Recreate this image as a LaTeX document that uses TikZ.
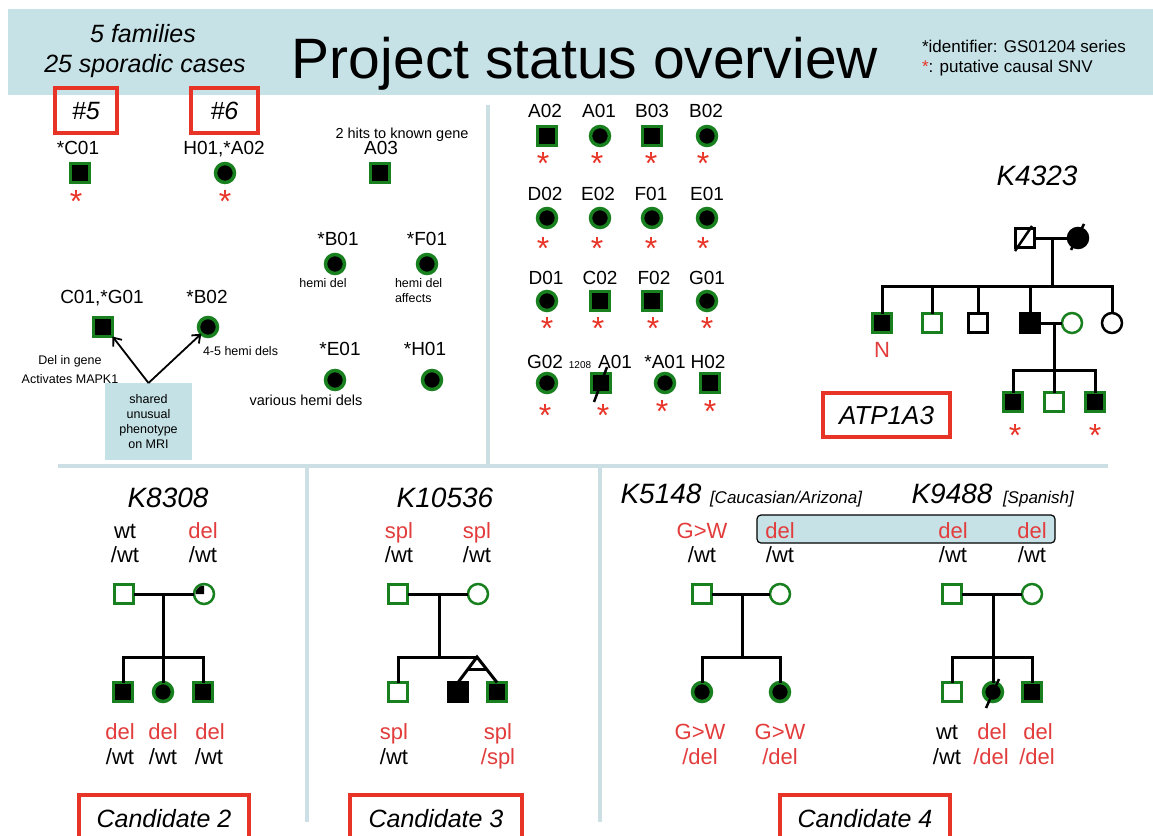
\documentclass[tikz,border=0pt]{standalone}
\usepackage{fontspec}
\setmainfont{Liberation Sans}
\usetikzlibrary{arrows.meta,calc}
\definecolor{banner}{RGB}{198,226,231}
\definecolor{divline}{RGB}{203,223,229}
\definecolor{mriblue}{RGB}{196,225,230}
\definecolor{pgreen}{RGB}{24,128,30}
\definecolor{pred}{RGB}{232,52,38}
\definecolor{tred}{RGB}{226,60,60}
\tikzset{
  fz/.style={font=\fontsize{#1}{#1}\selectfont, text height=0.72*#1, text depth=0},
  fzi/.style={font=\fontsize{#1}{#1}\selectfont\itshape, text height=0.72*#1, text depth=0},
  lab/.style={fz=19},
  gt/.style={fz=22},
  gtr/.style={fz=22, text=tred},
  fam/.style={fzi=28},
  redstar/.style={font=\fontsize{32}{32}\selectfont, text=pred, anchor=base},
  redbox/.style={draw=pred, line width=3.5},
  divider/.style={draw=divline, line width=3.5},
  ped/.style={line width=3, black, line join=miter},
  slash/.style={line width=2.5, black},
  arr/.style={line width=1.8, black, -{Straight Barb[length=7pt,width=11pt,line width=1.8pt]}},
  sqA/.style={rectangle, draw=pgreen, line width=3, fill=black, minimum size=19},
  ciA/.style={circle, draw=pgreen, line width=3.5, fill=black, minimum size=19},
  sqU/.style={rectangle, draw=pgreen, line width=2.5, fill=white, minimum size=19},
  ciU/.style={circle, draw=pgreen, line width=2.5, fill=white, minimum size=20},
  sqO/.style={rectangle, draw=black, line width=2.5, fill=white, minimum size=19},
  ciO/.style={circle, draw=black, line width=2.5, fill=white, minimum size=20},
  sqB/.style={rectangle, draw=black, line width=2.5, fill=black, minimum size=19},
  ciB/.style={circle, draw=black, line width=2.5, fill=black, minimum size=20},
  every node/.append style={inner sep=0pt, outer sep=0pt}
}
\newcommand{\rstar}[3]{\node[redstar] (#1) at (#2,#3+16) {*};}
\begin{document}
\begin{tikzpicture}[x=1pt,y=-1pt]
\clip (0,0) rectangle (1153,835);
\fill[white] (0,0) rectangle (1153,835);
% banner
\fill[banner] (8,9) rectangle (1153,95);
% dividers
\draw[divider] (488,105) -- (488,466);
\draw[divider] (58,466) -- (1108,466);
\draw[divider] (307,466) -- (307,822);
\draw[divider] (600,466) -- (600,822);

% ---------- banner texts
\node[fzi=25] (fam5) at (143,33) {5 families};
\node[fzi=25] (spor) at (145,63) {25 sporadic cases};
\node[fz=57] (title) at (585,58) {Project status overview};
\node[fz=17, anchor=west] (leg1) at (922,46) {*identifier: GS01204 series};
\node[fz=17, anchor=west] (leg2) at (922,66) {\textcolor{pred}{*}: putative causal SNV};

% ---------- top left
\node[redbox, fzi=25, minimum width=62, minimum height=45] (b5) at (86,110.5) {\#5};
\node[redbox, fzi=25, minimum width=67, minimum height=45] (b6) at (224.5,110.5) {\#6};
\node[lab] (lC01) at (78,148) {*C01};
\node[sqA] (sC01) at (80,173) {};
\rstar{stC01}{76}{196}
\node[lab] (lA02) at (224,148) {H01,*A02};
\node[ciA] (cA02) at (225,173) {};
\rstar{stA02}{225}{196}
\node[fz=14.5] (hits) at (402,133) {2 hits to known gene};
\node[lab] (lA03) at (381,148) {A03};
\node[sqA] (sA03) at (380,173) {};
\node[lab] (lB01) at (338,239) {*B01};
\node[ciA] (cB01) at (335,264) {};
\node[fz=12.5] (hd1) at (323,283) {hemi del};
\node[lab] (lF01) at (427,239) {*F01};
\node[ciA] (cF01) at (427,264) {};
\node[fz=12.5, anchor=west] (hd2) at (395,283) {hemi del};
\node[fz=12.5, anchor=west] (aff) at (395,298) {affects};
\node[lab] (lG01) at (102,297) {C01,*G01};
\node[sqA] (sG01) at (103,327) {};
\node[lab] (lB02) at (207,297) {*B02};
\node[ciA] (cB02) at (208,327) {};
\node[fz=12.5, anchor=west] (hd45) at (203,351) {4-5 hemi dels};
\node[fz=12.5] (delg) at (70,360) {Del in gene};
\node[fz=12.5] (mapk) at (70,379) {Activates MAPK1};
\node[fill=mriblue, minimum width=87, minimum height=77, align=center, font=\fontsize{12.5}{14.7}\selectfont] (mri) at (148.5,421.5) {shared\\unusual\\phenotype\\on MRI};
\draw[arr] (mri.north) -- (sG01.south east);
\draw[arr] (mri.north) -- (cB02.south west);
\node[lab] (lE01) at (340,349) {*E01};
\node[ciA] (cE01) at (335,380) {};
\node[fz=14.5] (vhd) at (306,400) {various hemi dels};
\node[lab] (lH01) at (425,349) {*H01};
\node[ciA] (cH01) at (432,380) {};

% ---------- grid
% row 1
\node[lab] (gA02) at (545,111) {A02};
\node[lab] (gA01) at (599,111) {A01};
\node[lab] (gB03) at (652,111) {B03};
\node[lab] (gB02) at (706,111) {B02};
\node[sqA] (s11) at (547,136) {};
\node[ciA] (s12) at (600,136) {};
\node[sqA] (s13) at (652,136) {};
\node[ciA] (s14) at (707,136) {};
\rstar{st11}{543}{158}\rstar{st12}{597}{158}\rstar{st13}{651}{158}\rstar{st14}{703}{158}
% row 2
\node[lab] (gD02) at (545,194) {D02};
\node[lab] (gE02) at (598,194) {E02};
\node[lab] (gF01) at (651,194) {F01};
\node[lab] (gE01) at (707,194) {E01};
\node[ciA] (s21) at (547,218) {};
\node[ciA] (s22) at (600,218) {};
\node[ciA] (s23) at (652,218) {};
\node[ciA] (s24) at (707,218) {};
\rstar{st21}{543}{243}\rstar{st22}{597}{243}\rstar{st23}{651}{243}\rstar{st24}{703}{243}
% row 3
\node[lab] (gD01) at (546,278) {D01};
\node[lab] (gC02) at (600,278) {C02};
\node[lab] (gF02) at (654,278) {F02};
\node[lab] (gG01) at (707,278) {G01};
\node[ciA] (s31) at (547,301) {};
\node[sqA] (s32) at (600,301) {};
\node[sqA] (s33) at (652,301) {};
\node[ciA] (s34) at (707,301) {};
\rstar{st31}{547}{323}\rstar{st32}{598}{323}\rstar{st33}{653}{323}\rstar{st34}{707}{323}
% row 4
\node[lab] (gG02) at (545,362) {G02};
\node[fz=10] (g1208) at (580,365) {1208};
\node[lab] (gA01b) at (615,362) {A01};
\node[lab] (gA01c) at (665,362) {*A01};
\node[lab] (gH02) at (708,362) {H02};
\node[ciA] (s41) at (547,383) {};
\node[sqA] (s42) at (601,383) {};
\node[ciA] (s43) at (665,383) {};
\node[sqA] (s44) at (710,383) {};
\draw[slash] ([shift={(-7,19)}]s42.center) -- ([shift={(6,-16)}]s42.center);
\rstar{st41}{545}{410}\rstar{st42}{603}{410}\rstar{st43}{662}{406}\rstar{st44}{710}{406}

% ---------- K4323
\node[fam] (k4323) at (1037,175) {K4323};
\node[sqO] (k4f) at (1025,238) {};
\node[ciB] (k4m) at (1078,238) {};
\draw[slash] ([shift={(-10,13)}]k4f.center) -- ([shift={(7,-12)}]k4f.center);
\draw[slash] ([shift={(-7,12)}]k4m.center) -- ([shift={(6,-14)}]k4m.center);
\node[sqA] (k4c1) at (882,323) {};
\node[sqU] (k4c2) at (932,323) {};
\node[sqO] (k4c3) at (978,323) {};
\node[sqB] (k4c4) at (1030,323) {};
\node[ciU] (k4sp) at (1072,323) {};
\node[ciO] (k4c5) at (1112,323) {};
\node[sqA] (k4g1) at (1013,402) {};
\node[sqU] (k4g2) at (1054,402) {};
\node[sqA] (k4g3) at (1095,402) {};
\coordinate (k4jc) at (1052,238);
\coordinate (k4js) at (1052,286);
\coordinate (k4jc2) at (1054,323);
\coordinate (k4js2) at (1054,370);
\draw[ped] (k4f.east) -- (k4m.west);
\draw[ped] (k4jc) -- (k4js);
\draw[ped] (k4c1.north) |- (k4js) -| (k4c5.north);
\draw[ped] (k4c2.north) -- (k4c2.north |- k4js);
\draw[ped] (k4c3.north) -- (k4c3.north |- k4js);
\draw[ped] (k4c4.north) -- (k4c4.north |- k4js);
\draw[ped] (k4c4.east) -- (k4sp.west);
\draw[ped] (k4jc2) -- (k4js2);
\draw[ped] (k4g1.north) |- (k4js2) -| (k4g3.north);
\draw[ped] (k4js2) -- (k4g2.north);
\node[fz=22, text=tred] (k4N) at (882,350) {N};
\rstar{k4st1}{1015}{430}\rstar{k4st2}{1095}{430}
\node[redbox, fzi=26, minimum width=127, minimum height=44] (atp) at (886.5,415) {ATP1A3};

% ---------- K8308
\node[fam] (k8308) at (168,497) {K8308};
\node[gt] (k8g1) at (125,531) {wt};
\node[gt] (k8g2) at (125,555) {/wt};
\node[gtr] (k8g3) at (203,531) {del};
\node[gt] (k8g4) at (203,555) {/wt};
\node[sqU] (k8f) at (124,594) {};
\node[ciU] (k8m) at (204,594) {};
\fill (k8m.center) -- ([xshift=-8.5pt]k8m.center) arc[start angle=180, end angle=90, radius=8.5pt] -- cycle;
\node[sqA] (k8c1) at (123,692) {};
\node[ciA] (k8c2) at (163,692) {};
\node[sqA] (k8c3) at (203,692) {};
\coordinate (k8jc) at (163,594);
\coordinate (k8js) at (163,657);
\draw[ped] (k8f.east) -- (k8m.west);
\draw[ped] (k8jc) -- (k8c2.north);
\draw[ped] (k8c1.north) |- (k8js) -| (k8c3.north);
\node[gtr] (k8b1) at (120,732) {del};
\node[gt] (k8b2) at (120,757) {/wt};
\node[gtr] (k8b3) at (163,732) {del};
\node[gt] (k8b4) at (163,757) {/wt};
\node[gtr] (k8b5) at (210,732) {del};
\node[gt] (k8b6) at (209,757) {/wt};
\node[redbox, fzi=25, minimum width=170, minimum height=46] (cand2) at (164,818) {Candidate 2};

% ---------- K10536
\node[fam] (k10536) at (445,497) {K10536};
\node[gtr] (k1g1) at (399,531) {spl};
\node[gt] (k1g2) at (399,555) {/wt};
\node[gtr] (k1g3) at (477,531) {spl};
\node[gt] (k1g4) at (477,555) {/wt};
\node[sqU] (k1f) at (398,594) {};
\node[ciU] (k1m) at (478,594) {};
\node[sqU] (k1c1) at (398,692) {};
\node[sqB] (k1t1) at (458,692) {};
\node[sqA] (k1t2) at (497,692) {};
\coordinate (k1jc) at (439,594);
\coordinate (k1js) at (439,657);
\coordinate (k1ap) at (477,657);
\draw[ped] (k1f.east) -- (k1m.west);
\draw[ped] (k1jc) -- (k1js);
\draw[ped] (k1c1.north) |- (k1ap);
\draw[ped] (k1t1.north) -- (k1ap) -- (k1t2.north);
\draw[ped] ($(k1ap)!0.5!(k1t1.north)$) -- ($(k1ap)!0.5!(k1t2.north)$);
\node[gtr] (k1b1) at (394,732) {spl};
\node[gt] (k1b2) at (394,757) {/wt};
\node[gtr] (k1b3) at (498,732) {spl};
\node[gtr] (k1b4) at (498,757) {/spl};
\node[redbox, fzi=25, minimum width=172, minimum height=46] (cand3) at (436,818) {Candidate 3};

% ---------- K5148 / K9488
\node[draw=black, line width=1.2, fill=banner, rounded corners=4pt, minimum width=298, minimum height=28] (delbox) at (906,529) {};
\node[fam] (k5148) at (661,493) {K5148};
\node[fzi=17, anchor=west] (cauc) at (710,497) {[Caucasian/Arizona]};
\node[fam] (k9488) at (952,493) {K9488};
\node[fzi=17, anchor=west] (span) at (1003,497) {[Spanish]};
\node[gtr] (k5g1) at (702,531) {G>W};
\node[gt] (k5g2) at (702,555) {/wt};
\node[gtr] (k5g3) at (780,531) {del};
\node[gt] (k5g4) at (780,555) {/wt};
\node[sqU] (k5f) at (702,594) {};
\node[ciU] (k5m) at (780,594) {};
\node[ciA] (k5c1) at (702,692) {};
\node[ciA] (k5c2) at (780,692) {};
\coordinate (k5jc) at (742,594);
\coordinate (k5js) at (742,657);
\draw[ped] (k5f.east) -- (k5m.west);
\draw[ped] (k5jc) -- (k5js);
\draw[ped] (k5c1.north) |- (k5js) -| (k5c2.north);
\node[gtr] (k5b1) at (700,732) {G>W};
\node[gtr] (k5b2) at (700,757) {/del};
\node[gtr] (k5b3) at (780,732) {G>W};
\node[gtr] (k5b4) at (780,757) {/del};

\node[gtr] (k9g1) at (953,531) {del};
\node[gt] (k9g2) at (953,555) {/wt};
\node[gtr] (k9g3) at (1032,531) {del};
\node[gt] (k9g4) at (1032,555) {/wt};
\node[sqU] (k9f) at (952,594) {};
\node[ciU] (k9m) at (1032,594) {};
\node[sqU] (k9c1) at (952,692) {};
\node[ciA] (k9c2) at (993,692) {};
\node[sqA] (k9c3) at (1032,692) {};
\coordinate (k9jc) at (993,594);
\coordinate (k9js) at (993,657);
\draw[ped] (k9f.east) -- (k9m.west);
\draw[ped] (k9jc) -- (k9c2.north);
\draw[ped] (k9c1.north) |- (k9js) -| (k9c3.north);
\draw[slash] ([shift={(-7,16)}]k9c2.center) -- ([shift={(6,-13)}]k9c2.center);
\node[gt] (k9b1) at (947,732) {wt};
\node[gt] (k9b2) at (947,757) {/wt};
\node[gtr] (k9b3) at (992,732) {del};
\node[gtr] (k9b4) at (991,757) {/del};
\node[gtr] (k9b5) at (1038,732) {del};
\node[gtr] (k9b6) at (1037,757) {/del};
\node[redbox, fzi=25, minimum width=170, minimum height=46] (cand4) at (865,818) {Candidate 4};
\end{tikzpicture}
\end{document}
